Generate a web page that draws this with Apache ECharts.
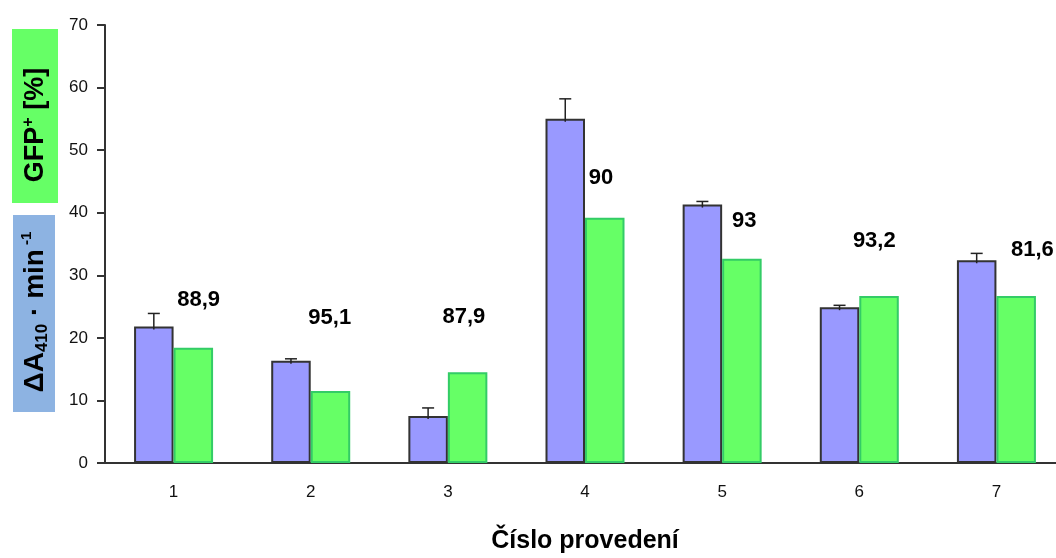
<!DOCTYPE html>
<html>
<head>
<meta charset="utf-8">
<script src="https://cdn.jsdelivr.net/npm/echarts@6/dist/echarts.min.js"></script>
<style>
  html, body { margin: 0; padding: 0; background: #fff; }
  #chart { width: 1056px; height: 558px; }
</style>
</head>
<body>
<div id="chart"></div>
<script>
// Experiment runs
const categories = ['1', '2', '3', '4', '5', '6', '7'];
// ΔA410 per minute (blue) with its upper error
const activity = [21.8, 16.35, 7.5, 55.0, 41.3, 24.9, 32.4];
const activityError = [2.1, 0.3, 1.3, 3.2, 0.5, 0.3, 1.1];
// GFP+ share (green)
const gfp = [18.4, 11.5, 14.5, 39.2, 32.65, 26.7, 26.7];
// Percentage annotations printed above each run
const annotationText = ['88,9', '95,1', '87,9', '90', '93', '93,2', '81,6'];
const annotationY = [26.05, 23.2, 23.3, 45.5, 38.7, 35.5, 34.0];
const annotationShiftX = [25, 19, 16, 16, 22, 15, 36];
// Y axis ticks
const yMin = 0, yMax = 70, yStep = 10;

const FONT = '"Liberation Sans", Arial, sans-serif';
const BAR_W = 39.5;

const chart = echarts.init(document.getElementById('chart'), null, { renderer: 'canvas' });

const option = {
  animation: false,
  backgroundColor: '#ffffff',
  grid: { left: 105, top: 25, bottom: 95, right: -9, containLabel: false, outerBoundsMode: 'none' },
  xAxis: {
    type: 'category',
    data: categories,
    axisLine: { lineStyle: { color: '#333', width: 2 } },
    axisTick: { show: false },
    axisLabel: { color: '#111', fontSize: 17, fontFamily: FONT, margin: 21 },
    name: 'Číslo provedení',
    nameLocation: 'middle',
    nameGap: 66,
    nameTextStyle: { color: '#000', fontSize: 25, fontWeight: 'bold', fontFamily: FONT }
  },
  yAxis: {
    type: 'value',
    min: yMin, max: yMax, interval: yStep,
    axisLine: { show: true, lineStyle: { color: '#333', width: 2 } },
    axisTick: { show: true, length: 8, lineStyle: { color: '#333', width: 2 } },
    axisLabel: { color: '#111', fontSize: 17, fontFamily: FONT, margin: 17 },
    splitLine: { show: false }
  },
  series: [
    {
      name: 'activity', type: 'bar', data: activity,
      barWidth: BAR_W, barGap: '0%',
      itemStyle: { color: '#9999FF', borderColor: '#333', borderWidth: 2 }
    },
    {
      name: 'gfp', type: 'bar', data: gfp,
      barWidth: BAR_W, barGap: '0%',
      itemStyle: { color: '#66FF66', borderColor: '#33CC66', borderWidth: 2 }
    },
    {
      name: 'error', type: 'custom', z: 5,
      data: activity.map((v, i) => [i, v, v + activityError[i]]),
      renderItem: function (params, api) {
        const base = api.coord([api.value(0), api.value(1)]);
        const top = api.coord([api.value(0), api.value(2)]);
        const x = base[0] - BAR_W / 2;
        const style = { stroke: '#222', lineWidth: 1.5 };
        return {
          type: 'group',
          children: [
            { type: 'line', shape: { x1: x, y1: base[1] + 3, x2: x, y2: top[1] }, style: style },
            { type: 'line', shape: { x1: x - 6, y1: top[1], x2: x + 6, y2: top[1] }, style: style }
          ]
        };
      }
    },
    {
      name: 'annotations', type: 'scatter', symbolSize: 0, z: 6,
      itemStyle: { opacity: 1 },
      data: annotationText.map((t, i) => ({
        value: [i, annotationY[i]],
        label: { offset: [annotationShiftX[i], 0] }
      })),
      label: {
        show: true, position: 'inside',
        formatter: p => annotationText[p.dataIndex],
        color: '#000', fontSize: 22, fontWeight: 'bold', fontFamily: FONT,
        textBorderWidth: 0
      }
    }
  ],
  graphic: [
    { type: 'rect', shape: { x: 12, y: 29, width: 46, height: 174 }, style: { fill: '#66FF66' } },
    { type: 'rect', shape: { x: 13, y: 215, width: 42, height: 197 }, style: { fill: '#8DB3E2' } },
    {
      type: 'text', x: 36, y: 125, rotation: Math.PI / 2,
      style: {
        text: 'GFP{sup|+} [%]',
        align: 'center', verticalAlign: 'middle',
        fill: '#000', font: 'bold 27px ' + FONT,
        rich: {
          sup: { fontSize: 16, fontWeight: 'bold', fontFamily: FONT, verticalAlign: 'top', lineHeight: 30, fill: '#000' }
        }
      }
    },
    {
      type: 'text', x: 35, y: 312, rotation: Math.PI / 2,
      style: {
        text: 'ΔA{sub|410} · min{sup| -1}',
        align: 'center', verticalAlign: 'middle',
        fill: '#000', font: 'bold 28px ' + FONT,
        rich: {
          sub: { fontSize: 17, fontWeight: 'bold', fontFamily: FONT, verticalAlign: 'bottom', lineHeight: 32, fill: '#000' },
          sup: { fontSize: 15, fontWeight: 'bold', fontFamily: FONT, verticalAlign: 'top', lineHeight: 32, fill: '#000' }
        }
      }
    }
  ]
};

chart.setOption(option);
</script>
</body>
</html>
